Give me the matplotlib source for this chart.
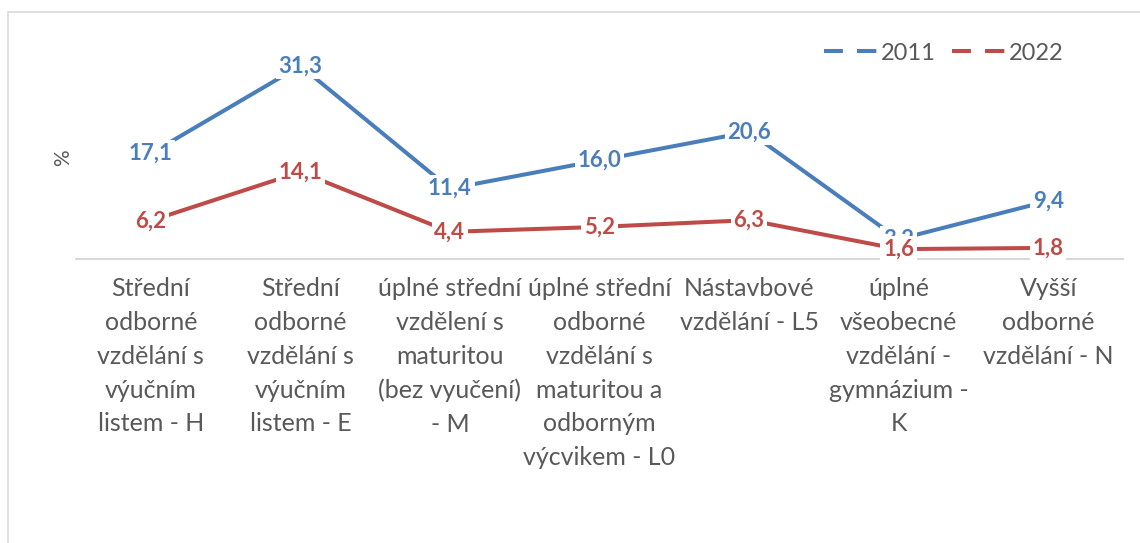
import matplotlib.pyplot as plt
from matplotlib.lines import Line2D
from matplotlib.patches import Rectangle

# data
categories = [
    'Střední\nodborné\nvzdělání s\nvýučním\nlistem - H',
    'Střední\nodborné\nvzdělání s\nvýučním\nlistem - E',
    'úplné střední\nvzdělení s\nmaturitou\n(bez vyučení)\n- M',
    'úplné střední\nodborné\nvzdělání s\nmaturitou a\nodborným\nvýcvikem - L0',
    'Nástavbové\nvzdělání - L5',
    'úplné\nvšeobecné\nvzdělání -\ngymnázium -\nK',
    'Vyšší\nodborné\nvzdělání - N',
]
years = ['2011', '2022']
values_2011 = [17.1, 31.3, 11.4, 16.0, 20.6, 3.2, 9.4]
values_2022 = [6.2, 14.1, 4.4, 5.2, 6.3, 1.6, 1.8]

BLUE = '#4A7EBB'
RED = '#BE4B48'
GRAY = '#595959'
FONT = 'Lato'

plt.rcParams['font.family'] = [FONT, 'DejaVu Sans']

fig = plt.figure(figsize=(11.4, 5.43), dpi=100)
# outer chart frame (runs off the right and bottom edge)
fig.patches.append(Rectangle((8 / 1140, -0.1), 1.2, 1 - 12 / 543 + 0.1,
                             transform=fig.transFigure, fill=False,
                             edgecolor='#D9D9D9', linewidth=1.2))

ax = fig.add_axes([76 / 1140, 1 - 259 / 543, (1123 - 76) / 1140, (259 - 43) / 543])
x = list(range(len(categories)))

for vals, color, lab in [(values_2011, BLUE, years[0]), (values_2022, RED, years[1])]:
    ax.plot(x, vals, color=color, linewidth=2.9, label=lab, solid_capstyle='butt', zorder=3)
    for xi, v in zip(x, vals):
        ax.text(xi, v, '{:.1f}'.format(v).replace('.', ','), ha='center', va='center',
                color=color, fontsize=16, fontweight='bold', zorder=4,
                bbox=dict(boxstyle='square,pad=0.12', facecolor='white', edgecolor='none'))

ax.set_xlim(-0.5, len(categories) - 0.5)
ax.set_ylim(0, 35)
for s in ['top', 'right', 'left']:
    ax.spines[s].set_visible(False)
ax.spines['bottom'].set_color('#D9D9D9')
ax.spines['bottom'].set_linewidth(1.5)
ax.set_yticks([])
ax.set_xticks(x)
ax.set_xticklabels(categories, fontsize=18, color=GRAY, linespacing=1.57)
ax.tick_params(axis='x', length=0, pad=13)

fig.text(63 / 1140, 1 - 158 / 543, '%', rotation=90, ha='center', va='center',
         fontsize=15, color=GRAY)

dash = (4.7, 3.5, 4.8, 100)
handles = [Line2D([], [], color=BLUE, linewidth=2.9, dashes=dash),
           Line2D([], [], color=RED, linewidth=2.9, dashes=dash)]
leg = fig.legend(handles, years, loc='center', bbox_to_anchor=(944 / 1140, 1 - 53 / 543),
                 ncol=2, frameon=False, fontsize=17, handlelength=2.25,
                 handletextpad=0.15, columnspacing=0.7)
for t in leg.get_texts():
    t.set_color(GRAY)

fig.savefig('out.png', dpi=100, facecolor='white')
